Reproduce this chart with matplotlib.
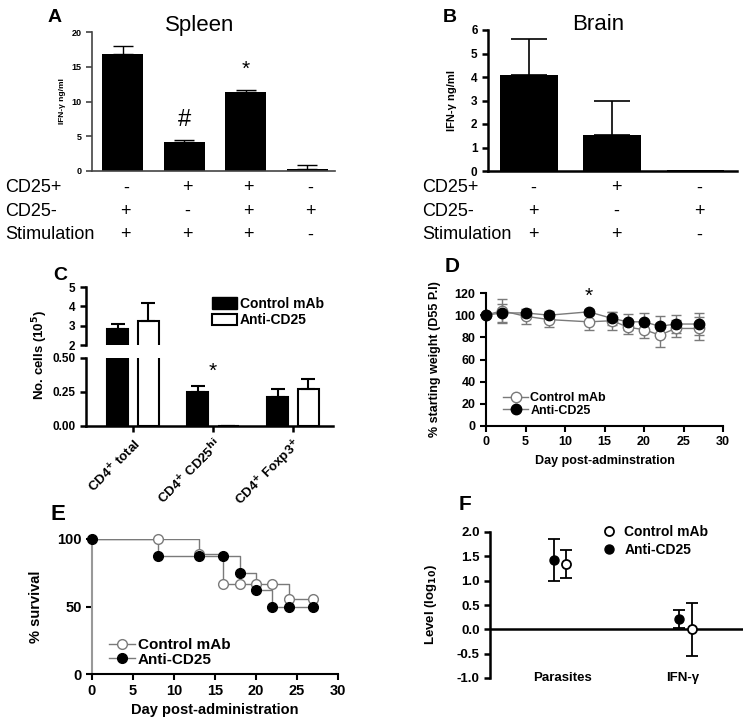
import numpy as np
import matplotlib
matplotlib.use('Agg')
import matplotlib.pyplot as plt
import matplotlib.transforms as mtransforms
from matplotlib.patches import Patch
from matplotlib.lines import Line2D

plt.rcParams['font.family'] = ['Liberation Sans', 'DejaVu Sans']
plt.rcParams['mathtext.default'] = 'bf'

# ---- data ----
# A: spleen IFN-g
spleen_ifn = [16.8, 4.2, 11.4, 0.3]
spleen_err = [1.2, 0.3, 0.2, 0.5]
spleen_cd25pos = ['-', '+', '+', '-']
spleen_cd25neg = ['+', '-', '+', '+']
spleen_stim = ['+', '+', '+', '-']

# B: brain IFN-g
brain_ifn = [4.1, 1.55, 0.05]
brain_err = [1.5, 1.45, 0.0]
brain_cd25pos = ['-', '+', '-']
brain_cd25neg = ['+', '-', '+']
brain_stim = ['+', '+', '-']

row_names = ['CD25+', 'CD25-', 'Stimulation']

# C: cell numbers (10^5)
cell_groups = ['CD4$^{+}$ total', 'CD4$^{+}$ CD25$^{hi}$', 'CD4$^{+}$ Foxp3$^{+}$']
cells_ctrl = [2.85, 0.25, 0.21]
cells_ctrl_err = [0.25, 0.045, 0.06]
cells_anti = [3.25, 0.0, 0.27]
cells_anti_err = [0.9, 0.0, 0.075]

# D: weight
wt_day = [0, 2, 5, 8, 13, 16, 18, 20, 22, 24, 27]
wt_ctrl = [100, 104, 99, 96, 94, 95, 89, 87, 82, 88, 88]
wt_ctrl_err = [0, 11, 7, 7, 7, 8, 6, 8, 11, 8, 10]
wt_anti = [100, 102, 102, 100, 103, 97, 94, 94, 90, 92, 92]
wt_anti_err = [0, 8, 4, 4, 3, 6, 7, 8, 9, 8, 10]

# E: survival
surv_day = [0, 8, 13, 16, 18, 20, 22, 24, 27]
surv_ctrl = [100, 100, 88.9, 66.7, 66.7, 66.7, 66.7, 55.6, 55.6]
surv_anti = [100, 87.5, 87.5, 87.5, 75, 62.5, 50, 50, 50]

# F: levels (log10)
level_cats = ['Parasites', 'IFN-γ']
level_ctrl = [1.35, 0.0]
level_ctrl_err = [0.29, 0.55]
level_anti = [1.42, 0.215]
level_anti_err = [0.43, 0.185]

W, H = 749, 720
fig = plt.figure(figsize=(W / 100, H / 100), dpi=100)

def fx(x):
    return x / W

def fy(y):
    return 1 - y / H

def box(x0, y0, x1, y1):
    return [x0 / W, 1 - y1 / H, (x1 - x0) / W, (y1 - y0) / H]

def clean(ax, lw=1.5, color='black'):
    ax.spines['top'].set_visible(False)
    ax.spines['right'].set_visible(False)
    for s in ['left', 'bottom']:
        ax.spines[s].set_linewidth(lw)
        ax.spines[s].set_color(color)
    ax.tick_params(width=lw, length=4, color=color)

def bold_ticks(ax, size):
    for lab in ax.get_xticklabels() + ax.get_yticklabels():
        lab.set_fontsize(size)
        lab.set_fontweight('bold')

grey = '#7a7a7a'

# ---- A ----
axA = fig.add_axes(box(92, 32, 335, 171))
xa = np.arange(len(spleen_ifn))
axA.bar(xa, spleen_ifn, width=0.66, color='black')
axA.errorbar(xa, spleen_ifn, yerr=[np.zeros(len(xa)), spleen_err], fmt='none',
             ecolor='black', elinewidth=1, capsize=7, capthick=1)
axA.set_xlim(-0.5, 3.45)
axA.set_ylim(0, 20)
axA.set_yticks([0, 5, 10, 15, 20])
axA.set_xticks([])
clean(axA, lw=1.2, color='#444444')
bold_ticks(axA, 6.5)
axA.set_ylabel('IFN-γ ng/ml', fontsize=6, fontweight='bold')
axA.yaxis.set_label_coords(-0.105, 0.5)
axA.text(1, 7.3, '#', ha='center', va='center', fontsize=17)
axA.text(2, 14.6, '*', ha='center', va='center', fontsize=15)
fig.text(fx(200), fy(25), 'Spleen', ha='center', va='center', fontsize=16)
fig.text(fx(55), fy(17), 'A', ha='center', va='center', fontsize=14, fontweight='bold')
trA = mtransforms.blended_transform_factory(axA.transData, fig.transFigure)
for row, (name, signs) in enumerate(zip(row_names, [spleen_cd25pos, spleen_cd25neg, spleen_stim])):
    yy = fy(188 + 23.5 * row)
    fig.text(fx(5), yy, name, ha='left', va='center', fontsize=13)
    for i, s in enumerate(signs):
        axA.text(xa[i] + 0.05, yy, s, transform=trA, ha='center', va='center', fontsize=13)

# ---- B ----
axB = fig.add_axes(box(488, 30, 737, 171))
xb = np.arange(len(brain_ifn))
axB.bar(xb, brain_ifn, width=0.69, color='black')
axB.errorbar(xb[:2], brain_ifn[:2], yerr=[np.zeros(2), brain_err[:2]], fmt='none',
             ecolor='black', elinewidth=1.2, capsize=13, capthick=1.2)
axB.set_xlim(-0.49, 2.5)
axB.set_ylim(0, 6)
axB.set_yticks(range(7))
axB.set_xticks([])
clean(axB, lw=1.8)
bold_ticks(axB, 8.5)
axB.set_ylabel('IFN-γ ng/ml', fontsize=8, fontweight='bold')
axB.yaxis.set_label_coords(-0.125, 0.5)
fig.text(fx(598), fy(25), 'Brain', ha='center', va='center', fontsize=16)
fig.text(fx(450), fy(17), 'B', ha='center', va='center', fontsize=14, fontweight='bold')
trB = mtransforms.blended_transform_factory(axB.transData, fig.transFigure)
for row, (name, signs) in enumerate(zip(row_names, [brain_cd25pos, brain_cd25neg, brain_stim])):
    yy = fy(188 + 23.5 * row)
    fig.text(fx(422), yy, name, ha='left', va='center', fontsize=13)
    for i, s in enumerate(signs):
        axB.text(xb[i] + 0.05, yy, s, transform=trB, ha='center', va='center', fontsize=13)

# ---- C (broken axis) ----
axCt = fig.add_axes(box(86, 287, 333, 345))
axCb = fig.add_axes(box(86, 358, 333, 426))
xc = np.arange(len(cell_groups))
bw = 0.26
for ax in (axCt, axCb):
    ax.bar(xc - 0.19, cells_ctrl, width=bw, color='black', edgecolor='black', linewidth=1.5)
    ax.bar(xc + 0.19, cells_anti, width=bw, color='white', edgecolor='black', linewidth=1.5)
    ax.errorbar(xc - 0.19, cells_ctrl, yerr=[np.zeros(3), cells_ctrl_err], fmt='none',
                ecolor='black', elinewidth=1.5, capsize=5, capthick=1.5)
    ax.errorbar(xc + 0.19, cells_anti, yerr=[np.zeros(3), cells_anti_err], fmt='none',
                ecolor='black', elinewidth=1.5, capsize=5, capthick=1.5)
    ax.set_xlim(-0.5875, 2.5)
    clean(ax, lw=1.8)
axCt.set_ylim(2, 5)
axCt.set_yticks([2, 3, 4, 5])
axCt.spines['bottom'].set_visible(False)
axCt.set_xticks([])
axCb.set_ylim(0, 0.5)
axCb.set_yticks([0, 0.25, 0.5])
axCb.set_yticklabels(['0.00', '0.25', '0.50'])
axCb.set_xticks(xc)
axCb.set_xticklabels(cell_groups, rotation=45, ha='right', rotation_mode='anchor')
bold_ticks(axCt, 8.5)
bold_ticks(axCb, 8.5)
for lab in axCb.get_xticklabels():
    lab.set_fontsize(9.5)
axCb.text(1, 0.405, '*', ha='center', va='center', fontsize=15)
fig.text(fx(40), fy(355), 'No. cells (10$^5$)', rotation=90, ha='center', va='center',
         fontsize=9.5, fontweight='bold')
fig.text(fx(60), fy(275), 'C', ha='center', va='center', fontsize=14, fontweight='bold')
axCt.legend(handles=[Patch(facecolor='black', edgecolor='black', label='Control mAb'),
                     Patch(facecolor='white', edgecolor='black', linewidth=1.5, label='Anti-CD25')],
            loc='upper left', bbox_to_anchor=(fx(212), fy(297)), bbox_transform=fig.transFigure,
            frameon=False, borderpad=0, borderaxespad=0, handlelength=1.8, handleheight=0.9,
            handletextpad=0.2, labelspacing=0.15, prop={'size': 10, 'weight': 'bold'})

# ---- D ----
axD = fig.add_axes(box(486, 293, 723, 426))
axD.errorbar(wt_day, wt_ctrl, yerr=wt_ctrl_err, color=grey, ecolor=grey, lw=1, elinewidth=1,
             capsize=3.5, marker='o', markersize=7.5, mfc='white', mec=grey, clip_on=False)
axD.errorbar(wt_day, wt_anti, yerr=wt_anti_err, color=grey, ecolor=grey, lw=1, elinewidth=1,
             capsize=3.5, marker='o', markersize=7.5, mfc='black', mec='black', clip_on=False)
axD.set_xlim(0, 30)
axD.set_ylim(0, 120)
axD.set_xticks(range(0, 31, 5))
axD.set_yticks(range(0, 121, 20))
clean(axD, lw=1.5)
bold_ticks(axD, 9)
axD.set_ylabel('% starting weight (D55 P.I)', fontsize=9, fontweight='bold')
axD.yaxis.set_label_coords(-0.19, 0.5)
axD.set_xlabel('Day post-adminstration', fontsize=9, fontweight='bold')
axD.xaxis.set_label_coords(0.5, -0.215)
axD.text(13, 117, '*', ha='center', va='center', fontsize=15)
fig.text(fx(452), fy(267), 'D', ha='center', va='center', fontsize=15, fontweight='bold')
axD.legend(handles=[Line2D([], [], color=grey, lw=1, marker='o', ms=7.5, mfc='white', mec=grey),
                    Line2D([], [], color=grey, lw=1, marker='o', ms=7.5, mfc='black', mec='black')],
           labels=['Control mAb', 'Anti-CD25'],
           loc='upper left', bbox_to_anchor=(fx(503), fy(392)), bbox_transform=fig.transFigure,
           frameon=False, borderpad=0, borderaxespad=0, handlelength=2.0, handletextpad=0.2,
           labelspacing=0.05, prop={'size': 9, 'weight': 'bold'})

# ---- E ----
axE = fig.add_axes(box(92, 539, 338, 674))
axE.plot(surv_day, surv_ctrl, drawstyle='steps-post', color=grey, lw=1, zorder=2)
axE.plot(surv_day, surv_anti, drawstyle='steps-post', color=grey, lw=1, zorder=2)
axE.plot(surv_day[1:], surv_ctrl[1:], 'o', ms=7, mfc='white', mec=grey, zorder=3, clip_on=False)
axE.plot(surv_day, surv_anti, 'o', ms=7, mfc='black', mec='black', zorder=4, clip_on=False)
axE.set_xlim(0, 30)
axE.set_ylim(0, 100)
axE.set_xticks(range(0, 31, 5))
axE.set_yticks([0, 50, 100])
clean(axE, lw=1.5)
axE.spines['left'].set_color('#999999')
bold_ticks(axE, 10.5)
axE.set_ylabel('% survival', fontsize=10.5, fontweight='bold')
axE.yaxis.set_label_coords(-0.2, 0.5)
axE.set_xlabel('Day post-administration', fontsize=10.5, fontweight='bold')
axE.xaxis.set_label_coords(0.5, -0.215)
fig.text(fx(58), fy(515), 'E', ha='center', va='center', fontsize=16, fontweight='bold')
axE.legend(handles=[Line2D([], [], color=grey, lw=1, marker='o', ms=7, mfc='white', mec=grey),
                    Line2D([], [], color=grey, lw=1, marker='o', ms=7, mfc='black', mec='black')],
           labels=['Control mAb', 'Anti-CD25'],
           loc='upper left', bbox_to_anchor=(fx(109), fy(638)), bbox_transform=fig.transFigure,
           frameon=False, borderpad=0, borderaxespad=0, handlelength=1.7, handletextpad=0.2,
           labelspacing=0.05, prop={'size': 11, 'weight': 'bold'})

# ---- F ----
axF = fig.add_axes(box(490, 532, 743, 678))
xf = np.arange(len(level_cats))
axF.errorbar(xf - 0.05, level_anti, yerr=level_anti_err, fmt='o', ms=6.5, mfc='black', mec='black',
             ecolor='black', elinewidth=1.3, capsize=4, capthick=1.3, zorder=3)
axF.errorbar(xf + 0.05, level_ctrl, yerr=level_ctrl_err, fmt='o', ms=6.5, mfc='white', mec='black',
             mew=1.3, ecolor='black', elinewidth=1.3, capsize=4, capthick=1.3, zorder=3)
axF.axhline(0, color='black', lw=1.8, zorder=1)
axF.set_xlim(-0.56, 1.46)
axF.set_ylim(-1.0, 2.0)
axF.set_yticks(np.arange(-1.0, 2.01, 0.5))
axF.set_yticklabels(['%.1f' % v for v in np.arange(-1.0, 2.01, 0.5)])
axF.set_xticks([])
clean(axF, lw=1.8)
axF.spines['bottom'].set_visible(False)
bold_ticks(axF, 9.5)
for i, c in enumerate(level_cats):
    axF.text(xf[i] + 0.02 * (1 - 2 * i), -1.0, c, ha='center', va='center', fontsize=9.5,
             fontweight='bold')
axF.set_ylabel('Level (log$_{10}$)', fontsize=9.5, fontweight='bold')
axF.yaxis.set_label_coords(-0.2, 0.5)
fig.text(fx(465), fy(505), 'F', ha='center', va='center', fontsize=15, fontweight='bold')
axF.legend(handles=[Line2D([], [], ls='none', marker='o', ms=6.5, mfc='white', mec='black', mew=1.3),
                    Line2D([], [], ls='none', marker='o', ms=6.5, mfc='black', mec='black')],
           labels=['Control mAb', 'Anti-CD25'],
           loc='upper left', bbox_to_anchor=(fx(602), fy(525)),
           bbox_transform=fig.transFigure, frameon=False, borderpad=0, borderaxespad=0,
           handlelength=1.0, handletextpad=0.6, labelspacing=0.3,
           prop={'size': 10, 'weight': 'bold'})

plt.savefig('out.png', dpi=100)
